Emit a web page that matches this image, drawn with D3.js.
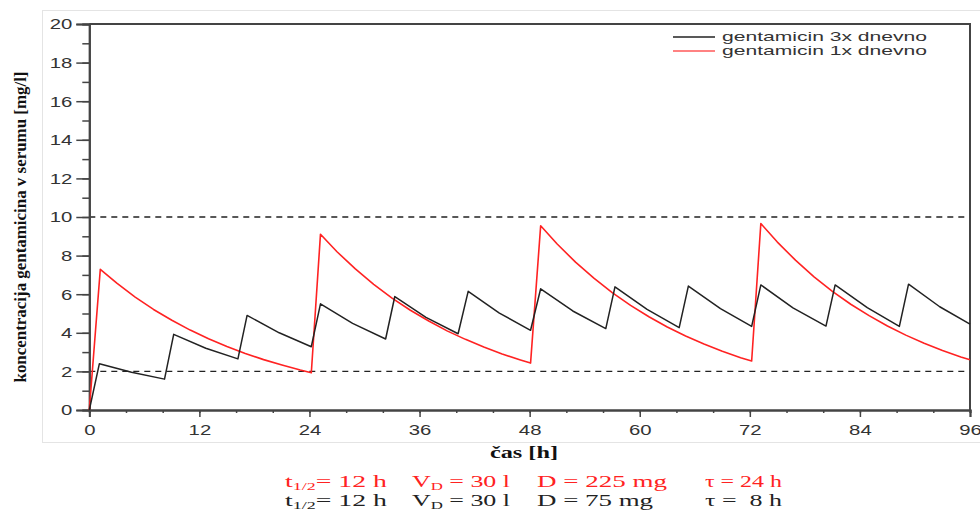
<!DOCTYPE html>
<html lang="sl">
<head>
<meta charset="UTF-8" />
<title>Gentamicin v serumu</title>
<script src="https://d3js.org/d3.v7.min.js"></script>
<style>
  body { margin: 0; background: #fff; }
  svg { display: block; }
  .tick text { font-family: "Liberation Sans", Arial, sans-serif; fill: #333; }
  text.param { white-space: pre; }
</style>
</head>
<body>
<div id="chart"></div>
<script>
// data
const redTime = [0, 1.2, 3, 5, 7, 9, 11, 13, 15, 17, 19, 21, 23, 24.2,
  25.2, 27, 29, 31, 33, 35, 37, 39, 41, 43, 45, 47, 48.1,
  49.2, 51, 53, 55, 57, 59, 61, 63, 65, 67, 69, 71, 72.2,
  73.2, 75, 77, 79, 81, 83, 85, 87, 89, 91, 93, 95, 96];
const redConc = [0, 7.29, 6.57, 5.85, 5.21, 4.65, 4.14, 3.69, 3.29, 2.93, 2.61, 2.33, 2.07, 1.93,
  9.11, 8.2, 7.31, 6.51, 5.8, 5.17, 4.61, 4.1, 3.66, 3.26, 2.9, 2.59, 2.43,
  9.55, 8.6, 7.66, 6.83, 6.08, 5.42, 4.83, 4.3, 3.83, 3.42, 3.04, 2.71, 2.54,
  9.66, 8.7, 7.75, 6.9, 6.15, 5.48, 4.89, 4.35, 3.88, 3.46, 3.08, 2.75, 2.6];

const blackTime = [0, 1.1, 4.6, 8.2, 9.2, 12.7, 16.2, 17.2, 20.7, 24.2, 25.2, 28.7, 32.3,
  33.3, 36.7, 40.2, 41.3, 44.7, 48.1, 49.2, 52.7, 56.3, 57.3, 60.8, 64.3,
  65.3, 68.8, 72.2, 73.2, 76.7, 80.3, 81.3, 84.8, 88.3, 89.3, 92.7, 96];
const blackConc = [0, 2.4, 1.96, 1.6, 3.92, 3.2, 2.65, 4.9, 4.0, 3.28, 5.5, 4.49, 3.68,
  5.88, 4.8, 3.95, 6.15, 5.02, 4.13, 6.28, 5.13, 4.22, 6.38, 5.21, 4.27,
  6.42, 5.25, 4.33, 6.48, 5.29, 4.35, 6.48, 5.3, 4.33, 6.52, 5.35, 4.45];

const xTicks = [0, 12, 24, 36, 48, 60, 72, 84, 96];
const xMinorTicks = d3.range(0, 97, 4);
const yTicks = [0, 2, 4, 6, 8, 10, 12, 14, 16, 18, 20];
const yMinorTicks = d3.range(0, 21, 1);
const refLevels = [2, 10];
const legendLabels = ["gentamicin 3x dnevno", "gentamicin 1x dnevno"];
const seriesColors = ["#222", "#ff2222"];
const paramRed = [["t", "1/2", "= 12 h"], ["V", "D", " = 30 l"], ["D = 225 mg"], ["τ = 24 h"]];
const paramBlack = [["t", "1/2", "= 12 h"], ["V", "D", " = 30 l"], ["D = 75 mg"], ["τ =  8 h"]];

const width = 980, height = 512;
const svg = d3.select("#chart").append("svg")
  .attr("width", width).attr("height", height);

// light outer frame of the figure
svg.append("rect")
  .attr("x", 42.5).attr("y", 10.5).attr("width", 960).attr("height", 432)
  .attr("fill", "none").attr("stroke", "#e4e4e4");

const x = d3.scaleLinear().domain([0, 96]).range([89.3, 970]);
const y = d3.scaleLinear().domain([0, 20]).range([410, 24]);

// reference dashed lines
svg.selectAll("line.ref").data(refLevels).join("line")
  .attr("class", "ref")
  .attr("x1", x(0)).attr("x2", x(96))
  .attr("y1", d => y(d)).attr("y2", d => y(d))
  .attr("stroke", "#222").attr("stroke-width", 1.4)
  .attr("stroke-dasharray", "6,5");

// frame (top and right)
svg.append("path")
  .attr("d", `M${x(0)},${y(20)}H${x(96)}V${y(0)}`)
  .attr("fill", "none").attr("stroke", "#444").attr("stroke-width", 2);

// axes
const yMinor = svg.append("g").attr("transform", `translate(${x(0)},0)`)
  .call(d3.axisLeft(y).tickValues(yMinorTicks).tickSize(7).tickFormat(""));
const yAxis = svg.append("g").attr("transform", `translate(${x(0)},0)`)
  .call(d3.axisLeft(y).tickValues(yTicks).tickSize(13).tickPadding(4));
const xMinor = svg.append("g").attr("transform", `translate(0,${y(0)})`)
  .call(d3.axisBottom(x).tickValues(xMinorTicks).tickSize(3).tickFormat(""));
const xAxis = svg.append("g").attr("transform", `translate(0,${y(0)})`)
  .call(d3.axisBottom(x).tickValues(xTicks).tickSize(7).tickPadding(7));

[yMinor, yAxis, xMinor, xAxis].forEach(g => {
  g.select(".domain").attr("stroke", "#444").attr("stroke-width", 2);
  g.selectAll(".tick line").attr("stroke", "#444").attr("stroke-width", 1.5);
});
[yAxis, xAxis].forEach(g => g.selectAll(".tick text")
  .attr("font-size", 15)
  .attr("textLength", d => String(d).length * 11.3)
  .attr("lengthAdjust", "spacingAndGlyphs"));

// series
const line = d3.line().x(d => x(d[0])).y(d => y(d[1]));
const redData = redTime.map((t, i) => [t, redConc[i]]);
const blackData = blackTime.map((t, i) => [t, blackConc[i]]);

svg.append("path").datum(redData)
  .attr("d", line).attr("fill", "none")
  .attr("stroke", seriesColors[1]).attr("stroke-width", 1.6)
  .attr("stroke-linejoin", "round");
svg.append("path").datum(blackData)
  .attr("d", line).attr("fill", "none")
  .attr("stroke", seriesColors[0]).attr("stroke-width", 1.5)
  .attr("stroke-linejoin", "round");

// legend
const legend = svg.append("g");
legendLabels.forEach((lab, i) => {
  const ly = 37 + i * 14;
  legend.append("line")
    .attr("x1", 673).attr("x2", 715).attr("y1", ly).attr("y2", ly)
    .attr("stroke", seriesColors[i]).attr("stroke-width", 1.6)
    .attr("opacity", i ? 0.75 : 1);
  legend.append("text")
    .attr("x", 722).attr("y", ly + 4)
    .attr("font-family", "Liberation Sans, Arial, sans-serif")
    .attr("font-size", 13).attr("fill", "#333")
    .attr("textLength", 205).attr("lengthAdjust", "spacingAndGlyphs")
    .text(lab);
});

// axis titles
svg.append("text")
  .attr("transform", "translate(26,227) rotate(-90)")
  .attr("text-anchor", "middle")
  .attr("font-family", "Liberation Serif, Times New Roman, serif")
  .attr("font-weight", "bold").attr("font-size", 16).attr("fill", "#111")
  .attr("textLength", 311).attr("lengthAdjust", "spacingAndGlyphs")
  .text("koncentracija gentamicina v serumu [mg/l]");

svg.append("text")
  .attr("x", 524).attr("y", 458)
  .attr("text-anchor", "middle")
  .attr("font-family", "Liberation Serif, Times New Roman, serif")
  .attr("font-weight", "bold").attr("font-size", 17).attr("fill", "#111")
  .attr("textLength", 68).attr("lengthAdjust", "spacingAndGlyphs")
  .text("čas [h]");

// parameter lines under the chart
const segX = [285, 412, 537, 705];
const segW = [[102, 98, 130, 77], [102, 98, 116, 77]];
[[paramRed, "#ff2222", 487], [paramBlack, "#222", 506]].forEach(([segs, col, by], li) => {
  segs.forEach((s, i) => {
    const t = svg.append("text")
      .attr("class", "param")
      .attr("x", segX[i]).attr("y", by)
      .attr("font-family", "Liberation Serif, Times New Roman, serif")
      .attr("font-size", 17).attr("fill", col)
      .attr("textLength", segW[li][i]).attr("lengthAdjust", "spacingAndGlyphs");
    if (s.length === 1) {
      t.text(s[0]);
    } else {
      t.append("tspan").text(s[0]);
      t.append("tspan").attr("font-size", 11).attr("dy", 3).text(s[1]);
      t.append("tspan").attr("dy", -3).text(s[2]);
    }
  });
});
</script>
</body>
</html>
